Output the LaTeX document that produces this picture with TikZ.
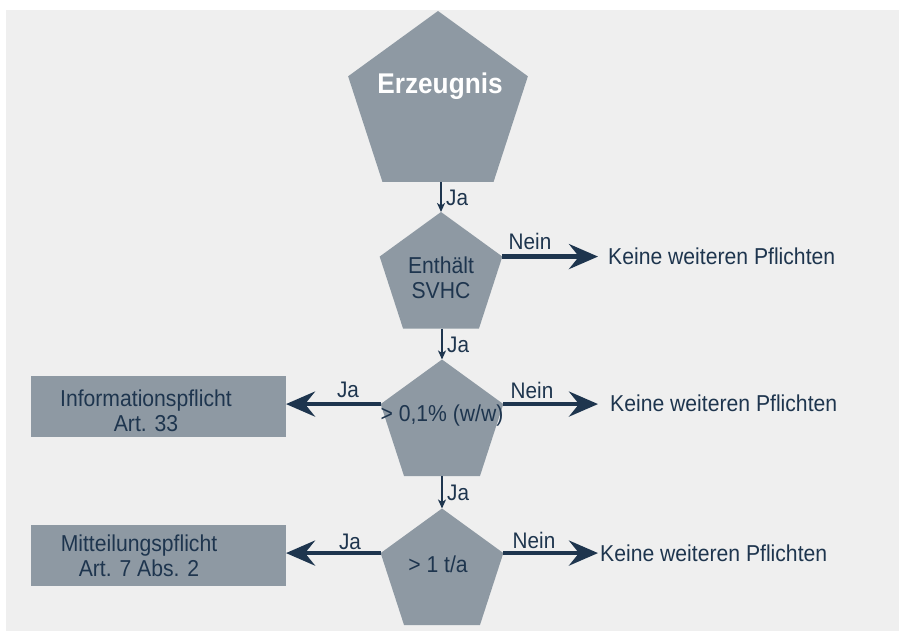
\documentclass[tikz,border=0pt]{standalone}
\usepackage{fontspec}
\setmainfont{Liberation Sans}[FakeStretch=0.92]
\usetikzlibrary{shapes.geometric,arrows.meta}
\definecolor{bgc}{RGB}{239,239,239}
\definecolor{shapec}{RGB}{142,153,163}
\definecolor{navy}{RGB}{30,53,78}
\tikzset{
  penta/.style={regular polygon, regular polygon sides=5, fill=shapec, draw=none, inner sep=0pt, outer sep=0pt},
  obox/.style={rectangle, fill=shapec, draw=none, minimum width=255pt, minimum height=61pt, inner sep=0pt, outer sep=0pt},
  txt/.style={text=navy, font=\fontsize{23}{25}\selectfont, inner sep=0pt, align=center},
  lbl/.style={text=navy, font=\fontsize{22.5}{24}\selectfont, inner sep=0pt},
  thin arrow/.style={draw=navy, line width=1.5pt, -{Stealth[length=9pt,width=8pt,inset=2.5pt]}},
  thick arrow/.style={draw=navy, line width=4.5pt, -{Stealth[length=29pt,width=25pt,inset=10pt]}}
}
\begin{document}
\begin{tikzpicture}[x=1pt,y=-1pt]
\useasboundingbox (0,0) rectangle (899,631);
\fill[white] (0,0) rectangle (899,631);
\fill[bgc] (6,10) rectangle (899,631);

% pentagons
\node[penta, minimum size=189pt] (p1) at (438,105.5) {};
\node[penta, minimum size=129pt] (p2) at (441,276.5) {};
\node[penta, minimum size=129pt] (p3) at (442,424) {};
\node[penta, minimum size=129pt] (p4) at (442,573) {};

% texts in pentagons
\node[text=white, font=\fontsize{28.5}{30}\selectfont\bfseries, inner sep=0pt] (t1) at (440,86) {Erzeugnis};
\node[txt] (t2) at (441,278) {Enthält\\SVHC};
\node[txt] (t3) at (442,416) {> 0,1\% (w/w)};
\node[txt] (t4) at (438,564) {> 1 t/a};

% boxes
\node[obox] (b1) at (158.5,406.5) {};
\node[obox] (b2) at (158.5,555.5) {};
\node[txt] (bt1) at (146,411) {Informationspflicht\\Art. 33};
\node[txt] (bt2) at (139,556) {Mitteilungspflicht\\Art. 7 Abs. 2};

% right targets
\node[txt, anchor=west] (k2) at (608,256) {Keine weiteren Pflichten};
\node[txt, anchor=west] (k3) at (610,403) {Keine weiteren Pflichten};
\node[txt, anchor=west] (k4) at (600,553) {Keine weiteren Pflichten};

% vertical arrows
\draw[thin arrow] (p2.north |- p1.south) -- (p2.north);
\draw[thin arrow] (p3.north |- p2.south) -- (p3.north);
\draw[thin arrow] (p4.north |- p3.south) -- (p4.north);
\node[lbl, anchor=west] (j1) at (446,198) {Ja};
\node[lbl, anchor=west] (j2) at (447,345) {Ja};
\node[lbl, anchor=west] (j3) at (447,493) {Ja};

% horizontal arrows
\draw[thick arrow] (p2.corner 5) -- (598,0 |- p2.corner 5) coordinate (e2);
\draw[thick arrow] (p3.corner 5) -- (598,0 |- p3.corner 5) coordinate (e3);
\draw[thick arrow] (p4.corner 5) -- (598,0 |- p4.corner 5) coordinate (e4);
\draw[thick arrow] (p3.corner 2) -- (p3.corner 2 -| b1.east);
\draw[thick arrow] (p4.corner 2) -- (p4.corner 2 -| b2.east);

\node[lbl] (n2) at (530,241) {Nein};
\node[lbl] (n3) at (532,390) {Nein};
\node[lbl] (n4) at (534,540) {Nein};
\node[lbl] (ja3) at (348,390) {Ja};
\node[lbl] (ja4) at (350,542) {Ja};
\end{tikzpicture}
\end{document}
